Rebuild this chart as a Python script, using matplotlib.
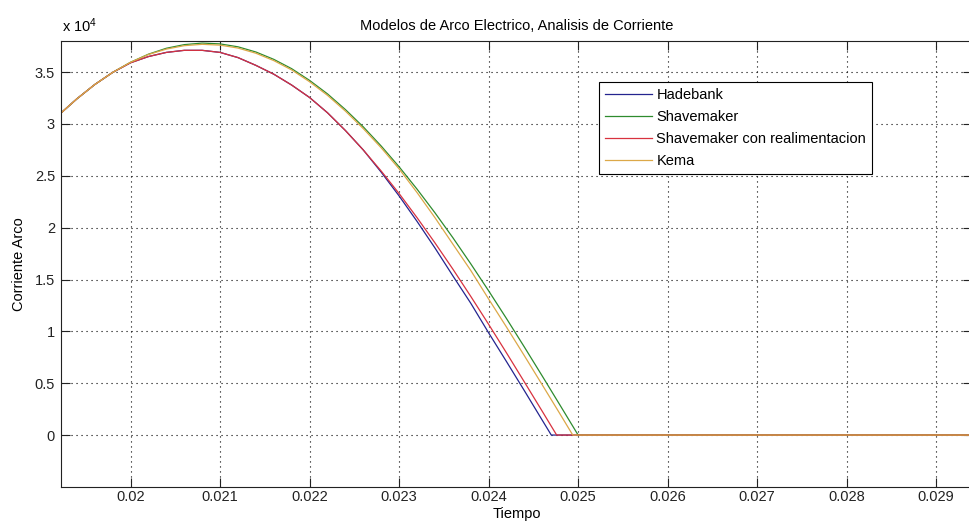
"""
Modelos de arco electrico: comparacion de la corriente de arco
(Hadebank, Shavemaker, Shavemaker con realimentacion y Kema)
"""

import numpy as np
import matplotlib
matplotlib.use("Agg")
import matplotlib.pyplot as plt
from matplotlib.ticker import FuncFormatter

plt.rcParams['font.family'] = ['Liberation Sans', 'DejaVu Sans']
plt.rcParams['mathtext.default'] = 'regular'
plt.rcParams['font.size'] = 10.5

# --- datos ---
# tiempo comun (s)
tiempo = [0.0192, 0.0194, 0.0196, 0.0198, 0.0200, 0.0202, 0.0204, 0.0206,
          0.0208, 0.0210, 0.0212, 0.0214, 0.0216, 0.0218, 0.0220, 0.0222,
          0.0224, 0.0226, 0.0228, 0.0230, 0.0232, 0.0234, 0.0236, 0.0238,
          0.0240, 0.0242, 0.0244, 0.0246]

# corriente de arco (x 10^4 A)
hadebank = [3.088, 3.242, 3.380, 3.497, 3.590, 3.650, 3.690, 3.710,
            3.710, 3.690, 3.640, 3.565, 3.480, 3.375, 3.255, 3.108,
            2.937, 2.749, 2.535, 2.306, 2.061, 1.805, 1.536, 1.272,
            0.986, 0.708, 0.427, 0.142]
shavemaker = [3.088, 3.242, 3.380, 3.497, 3.595, 3.673, 3.730, 3.765,
              3.780, 3.772, 3.744, 3.694, 3.623, 3.533, 3.420, 3.290,
              3.139, 2.972, 2.787, 2.587, 2.372, 2.144, 1.904, 1.652,
              1.391, 1.123, 0.848, 0.568]
shave_realim = [3.088, 3.242, 3.380, 3.497, 3.590, 3.650, 3.690, 3.710,
                3.710, 3.690, 3.640, 3.565, 3.480, 3.375, 3.255, 3.108,
                2.937, 2.749, 2.546, 2.329, 2.097, 1.854, 1.601, 1.338,
                1.068, 0.792, 0.511, 0.228]
kema = [3.088, 3.242, 3.380, 3.497, 3.595, 3.670, 3.722, 3.755,
        3.768, 3.760, 3.732, 3.682, 3.611, 3.521, 3.407, 3.276,
        3.124, 2.955, 2.770, 2.567, 2.339, 2.097, 1.842, 1.588,
        1.312, 1.041, 0.764, 0.483]

# final de cada curva: paso por cero y cola en cero
t_fin_hadebank = [0.0247, 0.0295]
i_fin_hadebank = [0.0, 0.0]
t_fin_shavemaker = [0.0248, 0.0250, 0.0295]
i_fin_shavemaker = [0.285, 0.0, 0.0]
t_fin_realim = [0.02476, 0.0295]
i_fin_realim = [0.0, 0.0]
t_fin_kema = [0.0248, 0.02494, 0.0295]
i_fin_kema = [0.200, 0.0, 0.0]

etiquetas = ['Hadebank', 'Shavemaker', 'Shavemaker con realimentacion', 'Kema']
colores = ['#24248f', '#2e8b2e', '#d8323f', '#dca848']

series = [
    (tiempo + t_fin_hadebank, hadebank + i_fin_hadebank),
    (tiempo + t_fin_shavemaker, shavemaker + i_fin_shavemaker),
    (tiempo + t_fin_realim, shave_realim + i_fin_realim),
    (tiempo + t_fin_kema, kema + i_fin_kema),
]

x_ticks = [0.020, 0.021, 0.022, 0.023, 0.024, 0.025, 0.026, 0.027, 0.028, 0.029]
y_ticks = [0, 0.5, 1, 1.5, 2, 2.5, 3, 3.5]

# --- grafica ---
fig = plt.figure(figsize=(9.69, 5.27), dpi=100)
ax = fig.add_axes([61 / 969, 40.1 / 527, 911 / 969, 445.9 / 527])

for (t, i), nombre, c in zip(series, etiquetas, colores):
    ax.plot(t, np.array(i) * 1e4, color=c, linewidth=0.9, label=nombre)

ax.set_xlim(0.019223, 0.0294)
ax.set_ylim(-5000, 38000)
ax.set_xticks(x_ticks)
ax.set_yticks(np.array(y_ticks) * 1e4)
ax.xaxis.set_major_formatter(FuncFormatter(lambda v, p: f'{v:g}'))
ax.yaxis.set_major_formatter(FuncFormatter(lambda v, p: f'{v / 1e4:g}'))

ax.tick_params(direction='in', length=6.5, width=0.8, top=True, right=True,
               colors='#222222', labelsize=10.5)
ax.tick_params(axis='x', pad=2.5)
ax.tick_params(axis='y', pad=4.3)
for s in ax.spines.values():
    s.set_linewidth(0.8)
    s.set_color('#222222')

ax.grid(True, color='black', linestyle=(0, (1, 3.5)), linewidth=0.8)

ax.set_title('Modelos de Arco Electrico, Analisis de Corriente', pad=8, fontsize=10.5)
ax.set_xlabel('Tiempo', labelpad=1.7)
ax.set_ylabel('Corriente Arco', labelpad=6.5)
fig.text(61.5 / 969, 1 - 32 / 527, 'x 10$^{4}$', ha='left', va='baseline', fontsize=10.5)

leg = ax.legend(loc='upper left', bbox_to_anchor=(599.3 / 969, 1 - 81.7 / 527),
                bbox_transform=fig.transFigure, fancybox=False, edgecolor='black',
                framealpha=1, borderaxespad=0, handlelength=3.2, handletextpad=0.3,
                labelspacing=0.55, borderpad=0.42, fontsize=10.5)
leg.get_frame().set_linewidth(0.8)

fig.savefig('out.png', dpi=100)
